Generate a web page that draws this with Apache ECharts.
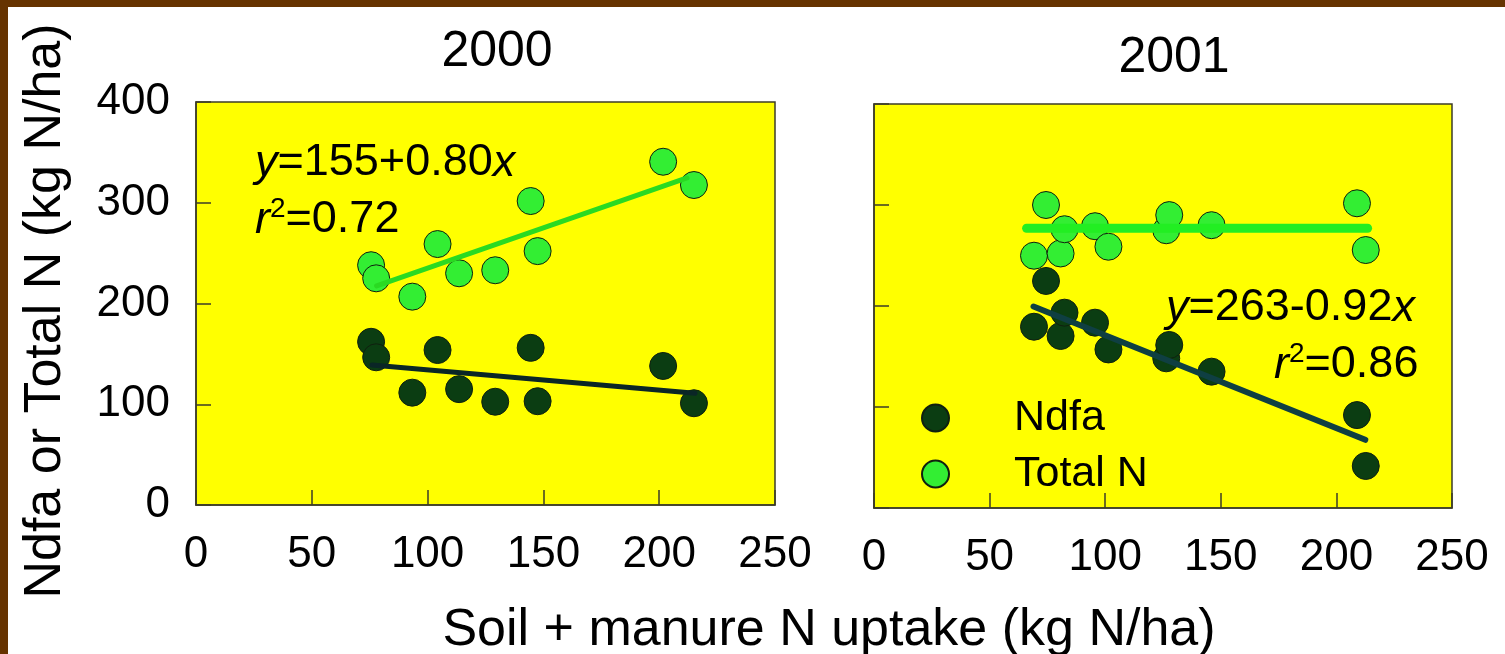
<!DOCTYPE html>
<html>
<head>
<meta charset="utf-8">
<script src="https://cdn.jsdelivr.net/npm/echarts@6/dist/echarts.min.js"></script>
<style>
  html, body { margin: 0; padding: 0; background: #ffffff; }
  #chart { width: 1505px; height: 654px; }
</style>
</head>
<body>
<div id="chart"></div>
<script>
// Soil + manure N uptake (kg N/ha) for each plot, by year
const uptake2000 = [75.6, 77.8, 93.4, 104.3, 113.6, 129.2, 144.5, 147.5, 201.7, 215];
const ndfa2000   = [162, 146.6, 111.5, 153.8, 115, 102.5, 156, 103, 138, 101];
const totalN2000 = [238, 225, 206.8, 259, 230, 233, 301.7, 252, 340.7, 317.6];

const uptake2001 = [69.2, 74.4, 80.7, 82.4, 95.6, 101.4, 126.4, 127.7, 146, 208.9, 212.7];
const ndfa2001   = [179.5, 224.8, 170.3, 193.4, 183.5, 157, 148.2, 161.4, 135, 92, 41.6];
const totalN2001 = [249.8, 300, 252, 276, 279, 258.7, 275, 290, 280, 301.7, 255.4];

// Fitted lines: [intercept, slope] as printed, and the x span they cover
const eqTotal2000 = [155, 0.80];
const spanTotal2000 = [78, 212];
const eqNdfa2001 = [263, -0.92];
const spanNdfa2001 = [69, 212.5];
// Unlabelled fits, given by their end points
const lineNdfa2000 = [[76, 139], [215.5, 111]];
const lineTotal2001 = [[66, 277], [213.5, 277]];

const xTicks = [0, 50, 100, 150, 200, 250];
const yTicks = [0, 100, 200, 300, 400];
const years = ['2000', '2001'];
const seriesNames = ['Ndfa', 'Total N'];

const FONT = '"Liberation Sans", Arial, Helvetica, sans-serif';
const YELLOW = '#FFFF00';
const DARK = '#0B3D12';
const LIGHT = '#33EE33';
const FRAME = '#3c3c28';

const zip = (xs, ys) => xs.map((x, i) => [x, ys[i]]);
const fitLine = (eq, span) => span.map(x => [x, eq[0] + eq[1] * x]);

function xAxisFor(gi) {
  return {
    type: 'value', gridIndex: gi,
    min: xTicks[0], max: xTicks[xTicks.length - 1], interval: 50,
    axisLine: { show: true, lineStyle: { color: FRAME, width: 1.5 } },
    axisTick: { show: true, inside: true, length: 15, lineStyle: { color: FRAME, width: 1.5 } },
    axisLabel: { show: true, fontSize: 44, fontFamily: FONT, color: '#000', margin: 28 },
    splitLine: { show: false }
  };
}
function yAxisFor(gi, labels) {
  return {
    type: 'value', gridIndex: gi,
    min: yTicks[0], max: yTicks[yTicks.length - 1], interval: 100,
    axisLine: { show: true, lineStyle: { color: FRAME, width: 1.5 } },
    axisTick: { show: true, inside: true, length: 15, lineStyle: { color: FRAME, width: 1.5 } },
    axisLabel: { show: labels, fontSize: 44, fontFamily: FONT, color: '#000', margin: 26 },
    splitLine: { show: false }
  };
}
function scatter(name, gi, data, color) {
  return {
    type: 'scatter', name: name, xAxisIndex: gi, yAxisIndex: gi,
    data: data, symbol: 'circle', symbolSize: 27, z: 2,
    itemStyle: { color: color, borderColor: '#10200f', borderWidth: 1, opacity: 1 },
    emphasis: { disabled: true }
  };
}
function fit(name, gi, data, color, width) {
  return {
    type: 'line', name: name, xAxisIndex: gi, yAxisIndex: gi,
    data: data, symbol: 'none', z: 3, silent: true,
    lineStyle: { color: color, width: width, cap: 'round' },
    emphasis: { disabled: true }
  };
}

const eqRich = {
  n: { fontSize: 45, fontFamily: FONT, fill: '#000', lineHeight: 50, verticalAlign: 'middle' },
  i: { fontSize: 45, fontFamily: FONT, fontStyle: 'italic', fill: '#000', lineHeight: 50, verticalAlign: 'middle' },
  s: { fontSize: 28, fontFamily: FONT, fill: '#000', lineHeight: 28, verticalAlign: 'top' }
};
function eqText(x, y, text) {
  return {
    type: 'text', x: x, y: y, z: 10,
    style: { text: text, rich: eqRich, fontSize: 45, fontFamily: FONT, fill: '#000',
             textAlign: 'left', textVerticalAlign: 'middle' }
  };
}

const chart = echarts.init(document.getElementById('chart'), null, { renderer: 'canvas' });
chart.setOption({
  animation: false,
  backgroundColor: '#ffffff',
  title: [
    { text: years[0], left: 492, top: 47, textAlign: 'center', textVerticalAlign: 'middle',
      textStyle: { fontSize: 50, fontWeight: 'normal', fontFamily: FONT, color: '#000' } },
    { text: years[1], left: 1169, top: 53, textAlign: 'center', textVerticalAlign: 'middle',
      textStyle: { fontSize: 50, fontWeight: 'normal', fontFamily: FONT, color: '#000' } }
  ],
  grid: [
    { left: 196, top: 102, width: 579, height: 403, show: true, backgroundColor: YELLOW,
      borderColor: FRAME, borderWidth: 1.5, containLabel: false },
    { left: 874, top: 104, width: 578, height: 404, show: true, backgroundColor: YELLOW,
      borderColor: FRAME, borderWidth: 1.5, containLabel: false }
  ],
  xAxis: [xAxisFor(0), xAxisFor(1)],
  yAxis: [yAxisFor(0, true), yAxisFor(1, false)],
  legend: {
    data: seriesNames, orient: 'vertical', left: 916, top: 391,
    icon: 'circle', itemWidth: 27, itemHeight: 27, itemGap: 12,
    selectedMode: false,
    textStyle: { fontSize: 43, lineHeight: 44, fontFamily: FONT, color: '#000', padding: [0, 0, 0, 60] }
  },
  series: [
    scatter(seriesNames[0], 0, zip(uptake2000, ndfa2000), DARK),
    scatter(seriesNames[1], 0, zip(uptake2000, totalN2000), LIGHT),
    scatter(seriesNames[0], 1, zip(uptake2001, ndfa2001), DARK),
    scatter(seriesNames[1], 1, zip(uptake2001, totalN2001), LIGHT),
    fit('Ndfa fit 2000', 0, lineNdfa2000, '#0a2626', 5),
    fit('Total N fit 2000', 0, fitLine(eqTotal2000, spanTotal2000), '#2ada22', 5),
    fit('Ndfa fit 2001', 1, fitLine(eqNdfa2001, spanNdfa2001), '#0f3f42', 6),
    fit('Total N fit 2001', 1, lineTotal2001, '#22ee22', 9)
  ],
  graphic: [
    // page frame
    { type: 'rect', shape: { x: 0, y: 0, width: 1505, height: 7 }, style: { fill: '#663300' }, z: 20 },
    { type: 'rect', shape: { x: 0, y: 0, width: 8, height: 654 }, style: { fill: '#663300' }, z: 20 },
    // shared axis titles
    { type: 'text', x: 46, y: 311, rotation: Math.PI / 2, z: 10,
      style: { text: 'Ndfa or Total N (kg N/ha)', fontSize: 52, fontFamily: FONT, fill: '#000',
               textAlign: 'center', textVerticalAlign: 'middle' } },
    { type: 'text', x: 829, y: 631, z: 10,
      style: { text: 'Soil + manure N uptake (kg N/ha)', fontSize: 52, fontFamily: FONT, fill: '#000',
               textAlign: 'center', textVerticalAlign: 'middle' } },
    // regression equations
    eqText(255, 163, '{i|y}{n|=155+0.80}{i|x}'),
    eqText(255, 220, '{i|r}{s|2}{n|=0.72}'),
    eqText(1166, 308, '{i|y}{n|=263-0.92}{i|x}'),
    eqText(1274, 365, '{i|r}{s|2}{n|=0.86}')
  ]
});
</script>
</body>
</html>
